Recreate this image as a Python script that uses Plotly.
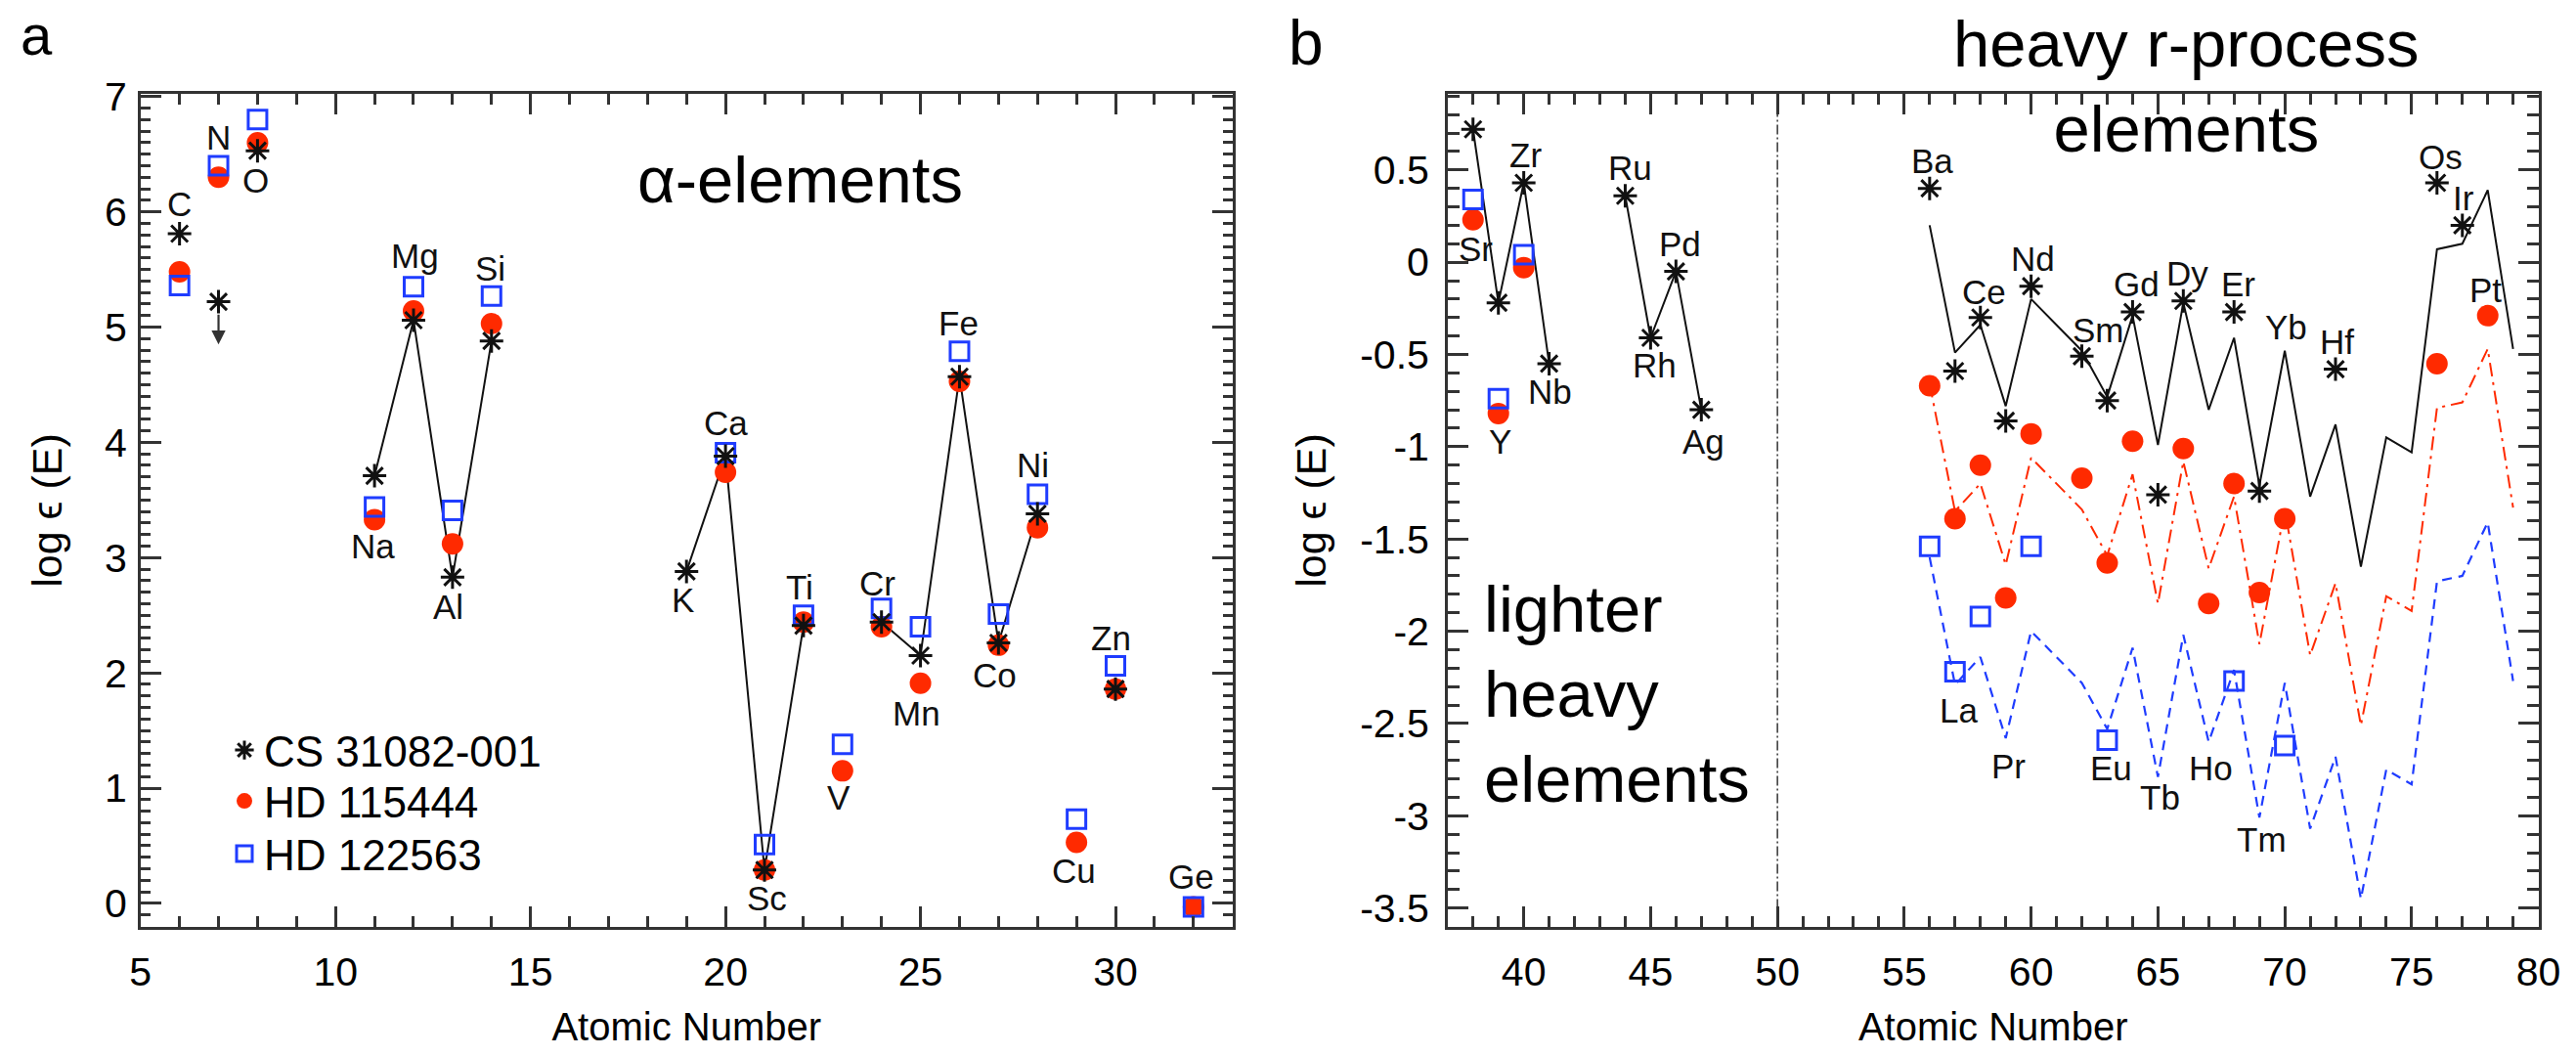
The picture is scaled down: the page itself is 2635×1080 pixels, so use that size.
import plotly.graph_objects as go

# ---------------- data: panel a (light elements) ----------------
a_elem = ["C", "N", "O", "Na", "Mg", "Al", "Si", "K", "Ca", "Sc", "Ti", "V",
          "Cr", "Mn", "Fe", "Co", "Ni", "Cu", "Zn", "Ge"]
a_z = [6, 7, 8, 11, 12, 13, 14, 19, 20, 21, 22, 23, 24, 25, 26, 27, 28, 29, 30, 32]
a_cs = [5.81, 5.22, 6.53, 3.71, 5.06, 2.83, 4.88, 2.88, 3.88, 0.29, 2.41, None,
        2.44, 2.15, 4.57, 2.26, 3.38, None, 1.86, None]
a_hd115 = [5.48, 6.30, 6.60, 3.33, 5.14, 3.12, 5.03, None, 3.74, 0.29, 2.44, 1.15,
           2.40, 1.91, 4.53, 2.24, 3.26, 0.53, 1.86, -0.03]
a_hd122 = [5.36, 6.40, 6.80, 3.44, 5.35, 3.41, 5.27, None, 3.91, 0.51, 2.50, 1.38,
           2.56, 2.40, 4.79, 2.51, 3.55, 0.73, 2.06, -0.03]
a_cs_groups = [[11, 12, 13, 14], [19, 20, 21, 22], [24, 25, 26, 27, 28]]
n_limit_z, n_limit_from, n_limit_to = 7, 5.22, 4.85
a_xticks = [5, 10, 15, 20, 25, 30]
a_yticks = [0, 1, 2, 3, 4, 5, 6, 7]

# ---------------- data: panel b (heavy elements) ----------------
b_elem = ["Sr", "Y", "Zr", "Nb", "Ru", "Rh", "Pd", "Ag", "Ba", "La", "Ce", "Pr", "Nd",
          "Sm", "Eu", "Gd", "Tb", "Dy", "Ho", "Er", "Tm", "Yb", "Hf", "Os", "Ir", "Pt"]
b_z = [38, 39, 40, 41, 44, 45, 46, 47, 56, 57, 58, 59, 60, 62, 63, 64, 65, 66, 67, 68,
       69, 70, 72, 76, 77, 78]
b_cs = [0.72, -0.22, 0.43, -0.55, 0.36, -0.41, -0.05, -0.80, 0.40, -0.59, -0.30, -0.86,
        -0.13, -0.51, -0.75, -0.27, -1.26, -0.21, None, -0.27, -1.24, None, -0.58,
        0.43, 0.20, None]
b_hd115 = [0.23, -0.82, -0.03, None, None, None, None, None, -0.67, -1.39, -1.10, -1.82,
           -0.93, -1.17, -1.63, -0.97, None, -1.01, -1.85, -1.20, -1.79, -1.39, None,
           -0.55, None, -0.29]
b_hd122 = [0.34, -0.74, 0.04, None, None, None, None, None, -1.54, -2.22, -1.92, None,
           -1.54, None, -2.59, None, None, None, None, -2.27, None, -2.62, None,
           None, None, None]
b_cs_groups = [[38, 39, 40, 41], [44, 45, 46, 47]]

# scaled solar r-process pattern (three normalisations)
r_z = [56, 57, 58, 59, 60, 62, 63, 64, 65, 66, 67, 68, 69, 70, 71, 72, 73, 74, 75, 76, 77, 78, 79]
r_cs = [0.20, -0.49, -0.34, -0.78, -0.20, -0.48, -0.73, -0.29, -0.99, -0.22, -0.80, -0.41,
        -1.21, -0.48, -1.27, -0.88, -1.65, -0.95, -1.03, 0.07, 0.10, 0.39, -0.47]
r_hd115 = [-0.66, -1.35, -1.20, -1.64, -1.06, -1.34, -1.59, -1.15, -1.85, -1.08, -1.66, -1.27,
           -2.07, -1.34, -2.13, -1.74, -2.51, -1.81, -1.89, -0.79, -0.76, -0.47, -1.33]
r_hd122 = [-1.60, -2.29, -2.14, -2.58, -2.00, -2.28, -2.53, -2.09, -2.79, -2.02, -2.60, -2.21,
           -3.01, -2.28, -3.07, -2.68, -3.45, -2.75, -2.83, -1.73, -1.70, -1.41, -2.27]
divider_z = 50
b_xticks = [40, 45, 50, 55, 60, 65, 70, 75, 80]
b_yticks = [0.5, 0, -0.5, -1, -1.5, -2, -2.5, -3, -3.5]
b_yticklabels = ["0.5", "0", "-0.5", "-1", "-1.5", "-2", "-2.5", "-3", "-3.5"]

series_names = ["CS 31082-001", "HD 115444", "HD 122563"]

# ---------------- layout / placement (not data) ----------------
W, H = 2635, 1080
FONT = "Liberation Sans, Arial, Helvetica, sans-serif"
RED = "#ff2a00"
BLUE = "#1f3cff"
BLACK = "#111111"

label_pos_a = {"C": (6.0, 6.07), "N": (7.0, 6.65), "O": (7.96, 6.27), "Na": (10.97, 3.10),
               "Mg": (12.03, 5.62), "Al": (12.9, 2.57), "Si": (13.96, 5.51), "K": (18.9, 2.63),
               "Ca": (20.0, 4.17), "Sc": (21.06, 0.05), "Ti": (21.9, 2.74), "V": (22.9, 0.92),
               "Cr": (23.9, 2.78), "Mn": (24.9, 1.65), "Fe": (25.97, 5.03), "Co": (26.9, 1.98),
               "Ni": (27.87, 3.80), "Cu": (28.93, 0.28), "Zn": (29.88, 2.30), "Ge": (31.93, 0.23)}
label_pos_b = {"Sr": (38.12, 0.07), "Y": (39.07, -0.97), "Zr": (40.09, 0.58), "Nb": (41.04, -0.70),
               "Ru": (44.18, 0.51), "Rh": (45.14, -0.56), "Pd": (46.17, 0.10), "Ag": (47.07, -0.97),
               "Ba": (56.12, 0.55), "La": (57.14, -2.43), "Ce": (58.14, -0.16), "Pr": (59.12, -2.73),
               "Nd": (60.09, 0.02), "Sm": (62.66, -0.37), "Eu": (63.16, -2.74), "Gd": (64.17, -0.12),
               "Tb": (65.1, -2.90), "Dy": (66.18, -0.06), "Ho": (67.1, -2.74), "Er": (68.18, -0.12),
               "Tm": (69.1, -3.13), "Yb": (70.06, -0.35), "Hf": (72.07, -0.43), "Os": (76.16, 0.57),
               "Ir": (77.05, 0.35), "Pt": (77.93, -0.15)}
legend_tops_px = [732, 784, 838]
legend_left_px = 230


def px_x(x):
    return x / W


def px_y(y):
    return 1 - y / H


def groups_line(zs, vals, groups):
    lookup = dict(zip(zs, vals))
    xs, ys = [], []
    for g in groups:
        for z in g:
            xs.append(z)
            ys.append(lookup[z])
        xs.append(None)
        ys.append(None)
    return xs, ys


fig = go.Figure()

star = dict(symbol="asterisk-open", size=20, color=BLACK, line=dict(color=BLACK, width=3))
circ = dict(symbol="circle", size=22, color=RED, line=dict(width=0))
sq = dict(symbol="square-open", size=19, color=BLUE, line=dict(color=BLUE, width=3))

# ---- panel a ----
lx, ly = groups_line(a_z, a_cs, a_cs_groups)
fig.add_trace(go.Scatter(x=lx, y=ly, mode="lines", line=dict(color=BLACK, width=2),
                         showlegend=False, hoverinfo="skip", xaxis="x", yaxis="y"))
fig.add_trace(go.Scatter(x=a_z, y=a_hd115, mode="markers", marker=circ, name=series_names[1],
                         legend="legend2", xaxis="x", yaxis="y"))
fig.add_trace(go.Scatter(x=a_z, y=a_hd122, mode="markers", marker=sq, name=series_names[2],
                         legend="legend3", xaxis="x", yaxis="y"))
fig.add_trace(go.Scatter(x=a_z, y=a_cs, mode="markers", marker=star, name=series_names[0],
                         legend="legend", xaxis="x", yaxis="y"))

# ---- panel b ----
lx, ly = groups_line(b_z, b_cs, b_cs_groups)
fig.add_trace(go.Scatter(x=lx, y=ly, mode="lines", line=dict(color=BLACK, width=2),
                         showlegend=False, hoverinfo="skip", xaxis="x2", yaxis="y2"))
fig.add_trace(go.Scatter(x=r_z, y=r_cs, mode="lines", line=dict(color=BLACK, width=2),
                         showlegend=False, hoverinfo="skip", xaxis="x2", yaxis="y2"))
fig.add_trace(go.Scatter(x=r_z, y=r_hd115, mode="lines",
                         line=dict(color=RED, width=2, dash="14px,6px,3px,6px"),
                         showlegend=False, hoverinfo="skip", xaxis="x2", yaxis="y2"))
fig.add_trace(go.Scatter(x=r_z, y=r_hd122, mode="lines",
                         line=dict(color=BLUE, width=2.2, dash="10px,7px"),
                         showlegend=False, hoverinfo="skip", xaxis="x2", yaxis="y2"))
fig.add_trace(go.Scatter(x=b_z, y=b_hd115, mode="markers", marker=circ, name=series_names[1],
                         showlegend=False, xaxis="x2", yaxis="y2"))
fig.add_trace(go.Scatter(x=b_z, y=b_hd122, mode="markers", marker=sq, name=series_names[2],
                         showlegend=False, xaxis="x2", yaxis="y2"))
fig.add_trace(go.Scatter(x=b_z, y=b_cs, mode="markers", marker=star, name=series_names[0],
                         showlegend=False, xaxis="x2", yaxis="y2"))

ann = []
for e in a_elem:
    x, y = label_pos_a[e]
    ann.append(dict(x=x, y=y, xref="x", yref="y", text=e, showarrow=False,
                    font=dict(size=35, color=BLACK, family=FONT)))
for e in b_elem:
    x, y = label_pos_b[e]
    ann.append(dict(x=x, y=y, xref="x2", yref="y2", text=e, showarrow=False,
                    font=dict(size=35, color=BLACK, family=FONT)))

# N upper limit arrow
ann.append(dict(x=n_limit_z, y=n_limit_to, ax=n_limit_z, ay=n_limit_from - 0.1,
                xref="x", yref="y", axref="x", ayref="y", text="", showarrow=True,
                arrowhead=2, arrowsize=1.3, arrowwidth=2.2, arrowcolor="#333333"))

big = dict(size=67, color="black", family=FONT)
ann.append(dict(x=px_x(818), y=px_y(183), xref="paper", yref="paper", text="α-elements",
                showarrow=False, font=big, xanchor="center", yanchor="middle"))
ann.append(dict(x=px_x(2236), y=px_y(88), xref="paper", yref="paper",
                text="heavy r-process<br>elements", showarrow=False, font=big,
                xanchor="center", yanchor="middle", align="center"))
ann.append(dict(x=px_x(1516), y=px_y(709), xref="paper", yref="paper",
                text="lighter<br>heavy<br>elements", showarrow=False, font=big,
                xanchor="left", yanchor="middle", align="left"))
ann.append(dict(x=px_x(37), y=px_y(35), xref="paper", yref="paper", text="a",
                showarrow=False, font=dict(size=58, color="black", family=FONT),
                xanchor="center", yanchor="middle"))
ann.append(dict(x=px_x(1336), y=px_y(44), xref="paper", yref="paper", text="b",
                showarrow=False, font=dict(size=64, color="black", family=FONT),
                xanchor="center", yanchor="middle"))

axis_common = dict(showline=True, linecolor="#333333", linewidth=2.5, mirror="ticks",
                   ticks="inside", tickcolor="#333333", tickwidth=2.5, ticklen=21,
                   showgrid=False, zeroline=False, automargin=False,
                   tickfont=dict(size=41, color="black", family=FONT))


def legend_box(top_px):
    return dict(x=px_x(legend_left_px), y=px_y(top_px), xanchor="left", yanchor="top",
                bgcolor="rgba(0,0,0,0)", font=dict(size=44, color="black", family=FONT),
                itemsizing="trace")


fig.update_layout(
    width=W, height=H,
    margin=dict(l=0, r=0, t=0, b=0),
    paper_bgcolor="white", plot_bgcolor="white",
    font=dict(family=FONT, color="black"),
    showlegend=True,
    legend=legend_box(legend_tops_px[0]),
    legend2=legend_box(legend_tops_px[1]),
    legend3=legend_box(legend_tops_px[2]),
    annotations=ann,
    shapes=[dict(type="line", xref="x2", yref="y2 domain", x0=divider_z, x1=divider_z,
                 y0=0, y1=1, line=dict(color="#333333", width=1.5, dash="10px,3px,2px,3px"))],
    xaxis=dict(domain=[143.75 / W, 1260.7 / W], range=[5, 33], anchor="y",
               tickvals=a_xticks, ticklabelstandoff=9,
               minor=dict(dtick=1, ticks="inside", ticklen=11, tickwidth=2.5, tickcolor="#333333"),
               title=dict(text="Atomic Number", font=dict(size=40, family=FONT), standoff=20),
               **axis_common),
    yaxis=dict(domain=[1 - 947.5 / H, 1 - 96.4 / H], range=[-0.2, 7.02], anchor="x",
               tickvals=a_yticks, ticklabelstandoff=3,
               minor=dict(dtick=0.1, ticks="inside", ticklen=10, tickwidth=2.5, tickcolor="#333333"),
               title=dict(text="log ϵ (E)", font=dict(size=43, family=FONT), standoff=30),
               **axis_common),
    xaxis2=dict(domain=[1480.8 / W, 2596.6 / W], range=[37, 80], anchor="y2",
                tickvals=b_xticks, ticklabelstandoff=9,
                minor=dict(dtick=1, ticks="inside", ticklen=11, tickwidth=2.5, tickcolor="#333333"),
                title=dict(text="Atomic Number", font=dict(size=40, family=FONT), standoff=20),
                **axis_common),
    yaxis2=dict(domain=[1 - 947.5 / H, 1 - 96.4 / H], range=[-3.6, 0.91], anchor="x2",
                tickvals=b_yticks, ticktext=b_yticklabels, ticklabelstandoff=8,
                minor=dict(dtick=0.1, ticks="inside", ticklen=12, tickwidth=2.5, tickcolor="#333333"),
                title=dict(text="log ϵ (E)", font=dict(size=43, family=FONT), standoff=22),
                **axis_common),
)

fig.write_html("out.html")
